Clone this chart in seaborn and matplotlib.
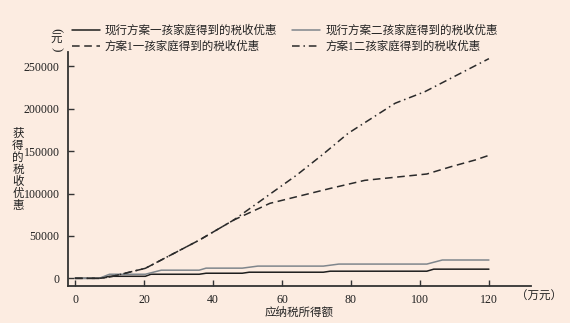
import matplotlib
matplotlib.use("Agg")
import matplotlib.pyplot as plt
import seaborn as sns
import pandas as pd

# Taxable income (10k yuan) and tax benefit (yuan) for each scheme
cur1_x = [0, 7, 10, 20.4, 22, 36, 38, 48.5, 50.5, 72, 74, 102, 104, 120]
cur1_y = [0, 0, 2400, 2400, 4800, 4800, 6000, 6000, 7200, 7200, 8400, 8400, 10800, 10800]

cur2_x = [0, 7, 10, 20.4, 25, 36, 38, 48.5, 53, 72, 76.5, 102, 106.5, 120]
cur2_y = [0, 0, 4800, 4800, 9600, 9600, 12000, 12000, 14400, 14400, 16800, 16800, 21600, 21600]

plan1_x = [0, 7, 10, 20.4, 36, 46, 56.5, 74, 84, 102, 109, 116, 120]
plan1_y = [0, 0, 1500, 11800, 45000, 68700, 88400, 106000, 115500, 123000, 131600, 139500, 145000]

plan2_x = [0, 7, 10, 20.4, 36, 46, 64.3, 72, 79.2, 92.8, 101.4, 120]
plan2_y = [0, 0, 1500, 11800, 45000, 68700, 121800, 146600, 171000, 206400, 220000, 259000]

labels = ["现行方案一孩家庭得到的税收优惠", "现行方案二孩家庭得到的税收优惠",
          "方案1一孩家庭得到的税收优惠", "方案1二孩家庭得到的税收优惠"]

x_ticks = [0, 20, 40, 60, 80, 100, 120]
y_ticks = [0, 50000, 100000, 150000, 200000, 250000]

bg = "#fcece1"
txt = "#222222"
sns.set_style("ticks")
plt.rcParams["font.family"] = ["Liberation Serif", "Noto Sans CJK SC"]
plt.rcParams["axes.unicode_minus"] = False

fig = plt.figure(figsize=(5.70, 3.23), dpi=100, facecolor=bg)
ax = fig.add_axes([68 / 570, 1 - 285.7 / 323, (531 - 68) / 570, (285.7 - 51.7) / 323])
ax.set_facecolor(bg)

series = [
    (cur1_x, cur1_y, labels[0], "#1e1e1e", "-"),
    (cur2_x, cur2_y, labels[1], "#7f868c", "-"),
    (plan1_x, plan1_y, labels[2], "#2a2a2a", (0, (5, 3))),
    (plan2_x, plan2_y, labels[3], "#2a2a2a", (0, (5, 2.5, 1, 2.5))),
]
handles = {}
for xs, ys, lab, col, ls in series:
    df = pd.DataFrame({"x": xs, "y": ys})
    sns.lineplot(data=df, x="x", y="y", ax=ax, color=col, linewidth=1.1,
                 linestyle=ls, label=lab, sort=False)
    handles[lab] = ax.get_lines()[-1]
ax.get_legend().remove()

ax.set_xlim(-2.03, 132.2)
ax.set_ylim(-8700, 267200)
ax.set_xticks(x_ticks)
ax.set_yticks(y_ticks)
ax.set_xticklabels([str(v) for v in x_ticks])
ax.set_yticklabels([str(v) for v in y_ticks])
ax.tick_params(direction="in", length=4, width=1, color="#333333",
               labelsize=8.6, labelcolor=txt, pad=6)
for side in ["top", "right"]:
    ax.spines[side].set_visible(False)
for side in ["left", "bottom"]:
    ax.spines[side].set_color("#333333")
    ax.spines[side].set_linewidth(1.3)
ax.set_xlabel("")
ax.set_ylabel("")

# axis titles
fig.text(299.5 / 570, 1 - 313 / 323, "应纳税所得额", ha="center", va="center",
         fontsize=8.3, color=txt)
fig.text(539 / 570, 1 - 297 / 323, "（万元）", ha="center", va="center",
         fontsize=8.3, color=txt)
fig.text(18 / 570, 1 - 170 / 323, "\n".join("获得的税收优惠"), ha="center", va="center",
         fontsize=8.3, color=txt, linespacing=1.0)

# vertical unit label: rotated brackets around an upright character
fig.text(56.5 / 570, 1 - 30.5 / 323, "(", ha="center", va="center", rotation=-90,
         fontsize=9.5, color=txt, family=["Liberation Serif"], zorder=5)
fig.text(56.5 / 570, 1 - 40 / 323, "元", ha="center", va="center",
         fontsize=8.3, color=txt, zorder=5)
fig.text(56.5 / 570, 1 - 49.5 / 323, ")", ha="center", va="center", rotation=-90,
         fontsize=9.5, color=txt, family=["Liberation Serif"], zorder=5)

order = [labels[0], labels[2], labels[1], labels[3]]
leg = fig.legend([handles[k] for k in order], order, ncol=2, loc="upper left",
                 bbox_to_anchor=(72 / 570, 1 - 25 / 323), frameon=False,
                 fontsize=8.3, handlelength=2.4, handletextpad=0.45,
                 columnspacing=1.3, labelspacing=0.35, borderpad=0, borderaxespad=0)
for t in leg.get_texts():
    t.set_color(txt)

fig.savefig("out.png", dpi=100, facecolor=bg)
